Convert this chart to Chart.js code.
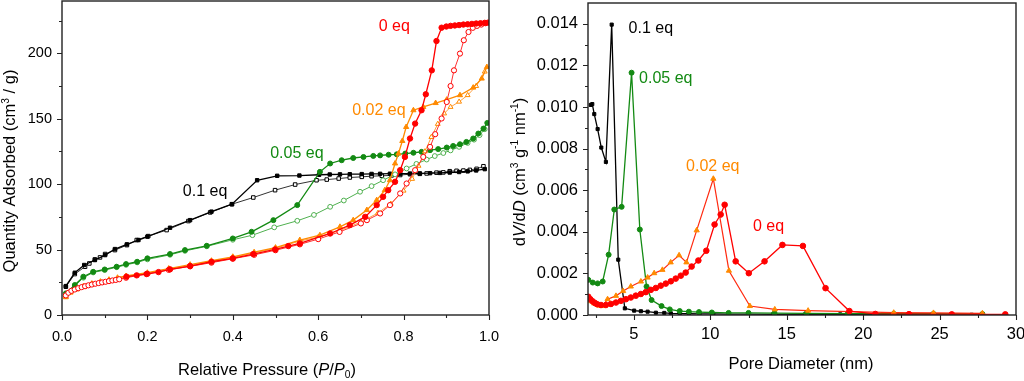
<!DOCTYPE html>
<html><head><meta charset="utf-8">
<script src="https://cdn.jsdelivr.net/npm/chart.js@4.4.1/dist/chart.umd.min.js"></script>
<style>
html,body{margin:0;padding:0;background:#fff;width:1024px;height:381px;overflow:hidden}
#c1{position:absolute;left:0;top:0}
#c2{position:absolute;left:500px;top:0}
</style></head><body>
<canvas id="c1" width="500" height="381"></canvas>
<canvas id="c2" width="524" height="381"></canvas>
<script>
// ---------- LEFT PANEL: isotherms (P/P0 vs quantity adsorbed) ----------
const p01_fill = [0.009,0.03,0.052,0.077,0.101,0.124,0.152,0.179,0.2,0.253,0.3,0.35,0.398,0.457,0.504,0.556,0.602,0.627,0.651,0.674,0.702,0.725,0.745,0.768,0.792,0.815,0.838,0.862,0.885,0.908,0.93,0.95,0.97,0.99];
const v01_fill = [22.1,32.3,38.2,42,45.8,50.4,54,57.3,59.9,66.7,72.5,79,84.7,103,106.4,106.6,107.2,107.4,107.5,107.6,107.7,107.8,107.9,108,108,108.1,108.2,108.4,108.6,108.9,109.3,109.8,110.5,111.5];
const p01_open = [0.009,0.03,0.054,0.064,0.077,0.089,0.101,0.124,0.152,0.175,0.202,0.245,0.296,0.347,0.398,0.448,0.499,0.546,0.596,0.62,0.648,0.674,0.702,0.725,0.749,0.772,0.792,0.815,0.838,0.854,0.877,0.893,0.908,0.924,0.94,0.955,0.971,0.987];
const v01_open = [21.6,31.3,36.9,39.4,42.5,44,46.6,49.6,53.4,57.3,60.3,64.9,71.8,78.4,84.7,89.8,95.4,99.7,103,103.5,104.3,105.1,105.6,106.1,106.4,106.7,107,107.6,107.9,108.2,108.8,109,109.9,110.2,110.4,110.9,111.7,113.7];

const p005_fill = [0.009,0.03,0.05,0.073,0.1,0.128,0.15,0.176,0.2,0.253,0.288,0.339,0.4,0.444,0.495,0.551,0.604,0.628,0.655,0.682,0.706,0.729,0.745,0.765,0.784,0.804,0.823,0.842,0.862,0.881,0.901,0.916,0.932,0.947,0.963,0.975,0.987,0.996];
const v005_fill = [16.5,22.9,29.3,33,34.8,36.9,38.9,40.7,43.3,46.6,49.6,52.9,58.5,63.6,72.5,84,109.4,115.8,118.3,120,120.8,121.6,122,122.5,122.8,123.4,124,124.7,126,126.8,128,129.2,130.5,132.3,134.9,138.7,142.5,146.8];
const p005_open = [0.009,0.03,0.05,0.073,0.1,0.128,0.15,0.176,0.2,0.253,0.288,0.339,0.4,0.446,0.497,0.551,0.59,0.628,0.66,0.698,0.725,0.752,0.78,0.807,0.83,0.854,0.873,0.893,0.91,0.93,0.95,0.965,0.978,0.99];
const v005_open = [15,22,28.5,32.5,34.3,36.5,38.3,40.2,42.5,46,49,52.5,57.5,61,67,72,76.5,82.7,87.5,94.2,98.5,103,107.5,112,115.5,118.8,121.5,123.8,125.8,128.5,131.5,134,137.5,142];

const p002_fill = [0.009,0.02,0.035,0.05,0.07,0.09,0.11,0.13,0.15,0.2,0.25,0.3,0.35,0.4,0.45,0.5,0.557,0.604,0.651,0.682,0.714,0.737,0.756,0.768,0.78,0.788,0.797,0.806,0.823,0.846,0.875,0.901,0.932,0.963,0.983,0.995];
const v002_fill = [14,17.5,20,22,24,25.5,27,28.5,29.8,32.3,35.5,38.5,41.5,44.5,48,51.5,57.3,61,67.4,72.5,80.2,87.8,95.4,103,115.8,123.4,133,143.7,156.5,159,162,164.6,168,173.8,180.7,189.5];
const p002_open = [0.009,0.02,0.035,0.05,0.07,0.09,0.11,0.13,0.15,0.2,0.25,0.3,0.35,0.4,0.45,0.5,0.557,0.6,0.65,0.7,0.74,0.77,0.8,0.82,0.835,0.85,0.865,0.88,0.895,0.91,0.93,0.95,0.97,0.99];
const v002_open = [13.5,17,19.5,21.5,23.5,25,26.5,28,29.3,31.8,35,38,41,44,47.5,51,56.5,59.5,64.5,71,78,85,95,104,114,125,136,146,154,159,163,168,175,186];

const p0_fill = [0.151,0.175,0.198,0.226,0.253,0.3,0.35,0.4,0.448,0.499,0.53,0.557,0.628,0.674,0.71,0.737,0.752,0.764,0.78,0.792,0.803,0.815,0.827,0.842,0.852,0.866,0.877,0.889,0.9,0.91,0.92,0.93,0.94,0.95,0.96,0.97,0.98,0.99,0.998];
const v0_fill = [29.3,30.3,31.3,32.8,34.9,37.4,40.7,43.3,46.6,50.1,52.7,54.7,62.3,68.7,75,84,90.3,95.4,101.8,110.7,120.8,134.9,146.3,156.5,168.7,187,209.4,219.6,220.5,221,221.3,221.6,222,222.2,222.5,222.8,223,223.3,223.5];
const p0_open = [0.009,0.015,0.022,0.03,0.038,0.046,0.054,0.062,0.07,0.078,0.086,0.094,0.102,0.11,0.118,0.126,0.134,0.15,0.2,0.25,0.3,0.35,0.4,0.45,0.5,0.557,0.6,0.65,0.7,0.714,0.745,0.768,0.792,0.807,0.827,0.846,0.862,0.874,0.889,0.901,0.91,0.918,0.932,0.941,0.952,0.962,0.972,0.982,0.992];
const v0_open = [15,17,18.5,19.5,20.5,21.3,22,22.7,23.3,23.9,24.4,24.9,25.4,25.9,26.4,26.8,27.3,28.5,31.5,34.5,37.2,40,43,46,49.5,54,58,63.5,70,72.5,77.6,84,92.9,100.5,110.7,120.8,128.5,138.2,150.2,162.8,175,187,199.8,210,216.3,219.5,221,222,223];

const leftXTicks = [0,0.2,0.4,0.6,0.8,1.0];
const leftXMinor = [0.1,0.3,0.5,0.7,0.9];
const leftYTicks = [0,50,100,150,200];
const leftYMinor = [25,75,125,175,225];
const leftLabels = ['0 eq','0.02 eq','0.05 eq','0.1 eq'];
const leftLabelX = [0.778,0.742,0.55,0.335];
const leftLabelY = [220.6,156.5,123.7,94.7];

// ---------- RIGHT PANEL: pore size distribution ----------
const d01 = [2.18,2.28,2.41,2.63,2.87,3.17,3.55,3.98,4.41,5.02,5.46,5.9,6.44,6.99,7.42,8.0,8.6,9.3,10.2,11.2,12.5,14.1,16.2,18.5,21.4,24.5,27.1];
const y01 = [0.0101,0.01014,0.00966,0.00894,0.00805,0.00736,0.01396,0.00266,0.00032,0.00021,0.00018,0.00016,0.00011,0.0001,0.00008,0.00007,0.00006,0.00005,0.00005,0.00004,0.00004,0.00003,0.00003,0.00003,0.00002,0.00002,0.00001];
const d005 = [2.02,2.31,2.63,2.96,3.35,3.72,4.2,4.85,5.39,5.83,6.16,6.81,7.35,8.0,8.6,9.26,10.1,11.2,12.5,14.2,16.3,19.0,22.0,24.6,27.8];
const y005 = [0.00169,0.00156,0.00152,0.00161,0.0029,0.00507,0.0052,0.01165,0.00411,0.00137,0.00072,0.00043,0.00027,0.00019,0.00016,0.00014,0.00012,0.0001,0.0001,0.00009,0.00008,0.00007,0.00006,0.00006,0.00005];
const d002 = [2.02,2.2,2.4,2.6,2.74,2.96,3.28,3.83,4.3,4.8,5.46,5.9,6.33,6.87,7.41,7.96,8.44,9.11,10.2,11.22,12.59,14.22,16.4,22.0,24.6,27.8];
const y002 = [0.00081,0.00066,0.00056,0.0005,0.00045,0.00043,0.00076,0.00092,0.00115,0.00137,0.00161,0.0018,0.00201,0.00217,0.00253,0.00287,0.00253,0.00407,0.00655,0.00213,0.00043,0.00027,0.00021,0.00011,0.0001,0.00008];
const d0 = [2.02,2.15,2.3,2.45,2.6,2.85,3.17,3.5,3.83,4.15,4.48,4.8,5.13,5.46,5.78,6.11,6.44,6.76,7.09,7.42,7.74,8.07,8.39,8.78,9.22,9.74,10.28,10.68,10.94,11.66,12.52,13.55,14.72,16.06,17.54,19.1,20.8,23.0,25.8,29.3];
const y0 = [0.00088,0.00076,0.00066,0.00058,0.00052,0.00048,0.00048,0.00053,0.0006,0.00068,0.00076,0.00084,0.00093,0.00101,0.0011,0.00121,0.0013,0.00141,0.00151,0.00162,0.00175,0.00189,0.00204,0.00233,0.00262,0.00309,0.00435,0.00483,0.0053,0.00258,0.00201,0.00258,0.00337,0.00332,0.00129,0.00019,0.00005,0.00004,0.00003,0.00003];

const rightXTicks = [5,10,15,20,25,30];
const rightXMinor = [2.5,7.5,12.5,17.5,22.5,27.5];
const rightYTicks = [0,0.002,0.004,0.006,0.008,0.010,0.012,0.014];
const rightYMinor = [0.001,0.003,0.005,0.007,0.009,0.011,0.013];
const rightLabels = ['0.1 eq','0.05 eq','0.02 eq','0 eq'];
const rightLabelX = [6.11,7.09,10.16,13.81];
const rightLabelY = [0.01377,0.01135,0.00715,0.00425];

// ---------- styling ----------
const FONT = '"Liberation Sans", Arial, Helvetica, sans-serif';
const BLACK='#000000', GREEN='#138a13', ORANGE='#ff8a00', RED='#ff0000';
const GREEN_L='#4fb04f', ORANGE_L='#ffa040', RED_L='#ff3030';

function pts(xs, ys){ return xs.map((x,i)=>({x:x, y:ys[i]})); }
function ds(xs, ys, line, fillCol, style, filled, r, lw){
  return { data: pts(xs,ys), showLine:true, borderColor:line, borderWidth:lw||1.2,
    pointStyle:style, pointRadius:r, pointHoverRadius:r, pointBorderWidth:1,
    pointBorderColor: fillCol, pointBackgroundColor: filled ? fillCol : '#ffffff', tension:0 };
}

function drawRich(ctx, segs, x, y, size, rot){
  ctx.save(); ctx.translate(x,y); if(rot) ctx.rotate(-Math.PI/2);
  let w=0;
  const m = segs.map(s=>{ const fs=(s.sup||s.sub)? size*0.62 : size;
    ctx.font=(s.it?'italic ':'')+fs+'px '+FONT; const ww=ctx.measureText(s.t).width; w+=ww; return {s,fs,ww}; });
  let cx=-w/2; ctx.fillStyle='#000'; ctx.textBaseline='alphabetic'; ctx.textAlign='left';
  m.forEach(({s,fs,ww})=>{ ctx.font=(s.it?'italic ':'')+fs+'px '+FONT;
    let dy=size*0.36; if(s.sup) dy-=size*0.42; if(s.sub) dy+=size*0.2;
    ctx.fillText(s.t,cx,dy); cx+=ww; });
  ctx.restore();
}

function decoPlugin(o){
  return { id:'deco', afterDraw(chart){
    const ctx=chart.ctx, a=chart.chartArea, xs=chart.scales.x, ys=chart.scales.y;
    ctx.save();
    ctx.strokeStyle='#222'; ctx.lineWidth=1.4;
    ctx.strokeRect(a.left, a.top, a.right-a.left, a.bottom-a.top);
    ctx.lineWidth=1.1; ctx.beginPath();
    const X=(v)=>Math.round(xs.getPixelForValue(v))+0.5, Y=(v)=>Math.round(ys.getPixelForValue(v))+0.5;
    o.xMajor.forEach(v=>{const p=X(v); ctx.moveTo(p,a.bottom); ctx.lineTo(p,a.bottom+5);});
    o.xMinor.forEach(v=>{const p=X(v); ctx.moveTo(p,a.bottom); ctx.lineTo(p,a.bottom+3);});
    o.yMajor.forEach(v=>{const p=Y(v); ctx.moveTo(a.left,p); ctx.lineTo(a.left-5,p);});
    o.yMinor.forEach(v=>{const p=Y(v); ctx.moveTo(a.left,p); ctx.lineTo(a.left-3,p);});
    ctx.stroke();
    // series labels
    ctx.font=o.labelSize+'px '+FONT; ctx.textAlign='center'; ctx.textBaseline='middle';
    o.labels.forEach((t,i)=>{ ctx.fillStyle=o.labelColors[i]; ctx.fillText(t, xs.getPixelForValue(o.labelX[i]), ys.getPixelForValue(o.labelY[i])); });
    // axis titles
    drawRich(ctx, o.xTitle, o.xTitlePos[0], o.xTitlePos[1], 16.5, false);
    drawRich(ctx, o.yTitle, o.yTitlePos[0], o.yTitlePos[1], 16.5, true);
    ctx.restore();
  }};
}

function fixPad(s){ s.paddingTop=0; s.paddingBottom=0; s.paddingLeft=0; s.paddingRight=0; }

function makeChart(id, datasets, sc, o){
  return new Chart(document.getElementById(id), {
    type:'scatter',
    data:{datasets},
    options:{
      responsive:false, animation:false, events:[],
      layout:{autoPadding:false, padding:{left:0, top:sc.padTop, right:sc.padRight, bottom:0}},
      plugins:{legend:{display:false}, tooltip:{enabled:false}},
      scales:{
        x:{type:'linear', min:sc.xmin, max:sc.xmax,
          grid:{display:false, drawTicks:false}, border:{display:false},
          afterBuildTicks:(s)=>{ s.ticks = sc.xTicks.map(v=>({value:v})); },
          afterFit:(s)=>{ s.height = sc.xH; fixPad(s); },
          ticks:{color:'#000', font:{family:FONT, size:sc.tickSize}, padding:sc.xPad, maxRotation:0, autoSkip:false,
            callback:sc.xFmt}},
        y:{type:'linear', min:sc.ymin, max:sc.ymax,
          grid:{display:false, drawTicks:false}, border:{display:false},
          afterBuildTicks:(s)=>{ s.ticks = sc.yTicks.map(v=>({value:v})); },
          afterFit:(s)=>{ s.width = sc.yW; fixPad(s); },
          ticks:{color:'#000', font:{family:FONT, size:sc.tickSize}, padding:sc.yPad, autoSkip:false,
            callback:sc.yFmt}}
      }
    },
    plugins:[decoPlugin(o)]
  });
}

// left chart
makeChart('c1', [
  ds(p0_fill, v0_fill, RED, RED, 'circle', true, 2.7, 1.3),
  ds(p0_open, v0_open, RED_L, RED, 'circle', false, 2.6, 1),
  ds(p002_fill, v002_fill, ORANGE, ORANGE, 'triangle', true, 3, 1.3),
  ds(p002_open, v002_open, ORANGE_L, ORANGE, 'triangle', false, 2.8, 1),
  ds(p005_fill, v005_fill, GREEN, GREEN, 'circle', true, 2.5, 1.3),
  ds(p005_open, v005_open, GREEN_L, GREEN_L, 'circle', false, 2.4, 1),
  ds(p01_fill, v01_fill, BLACK, BLACK, 'rect', true, 2.4, 1.3),
  ds(p01_open, v01_open, '#333', BLACK, 'rect', false, 2.5, 1)
], {padTop:1, padRight:11, xmin:0, xmax:1.0, ymin:0, ymax:240, xTicks:leftXTicks, yTicks:leftYTicks,
    xH:66, yW:62, tickSize:14.5, xPad:13, yPad:10,
    xFmt:(v)=>Number(v).toFixed(1), yFmt:(v)=>String(v)},
  {xMajor:leftXTicks, xMinor:leftXMinor, yMajor:leftYTicks, yMinor:leftYMinor,
   labels:leftLabels, labelX:leftLabelX, labelY:leftLabelY, labelColors:[RED,ORANGE,GREEN,BLACK], labelSize:16,
   xTitle:[{t:'Relative Pressure ('},{t:'P',it:1},{t:'/'},{t:'P',it:1},{t:'0',sub:1},{t:')'}], xTitlePos:[267,369],
   yTitle:[{t:'Quantity Adsorbed (cm'},{t:'3',sup:1},{t:' / g)'}], yTitlePos:[9.5,171]});

// right chart
makeChart('c2', [
  ds(d0, y0, RED, RED, 'circle', true, 2.8, 1.3),
  ds(d002, y002, '#ff2a10', ORANGE, 'triangle', true, 3, 1.2),
  ds(d005, y005, GREEN, GREEN, 'circle', true, 2.5, 1.3),
  ds(d01, y01, BLACK, BLACK, 'rect', true, 2.2, 1.3)
], {padTop:3, padRight:8, xmin:2, xmax:30, ymin:0, ymax:0.015, xTicks:rightXTicks, yTicks:rightYTicks,
    xH:66, yW:88, tickSize:16.5, xPad:10, yPad:10,
    xFmt:(v)=>String(v), yFmt:(v)=>Number(v).toFixed(3)},
  {xMajor:rightXTicks, xMinor:rightXMinor, yMajor:rightYTicks, yMinor:rightYMinor,
   labels:rightLabels, labelX:rightLabelX, labelY:rightLabelY, labelColors:[BLACK,GREEN,ORANGE,RED], labelSize:16,
   xTitle:[{t:'Pore Diameter (nm)'}], xTitlePos:[301,363],
   yTitle:[{t:'d'},{t:'V',it:1},{t:'/d'},{t:'D',it:1},{t:' (cm'},{t:'3',sup:1},{t:' g'},{t:'-1',sup:1},{t:' nm'},{t:'-1',sup:1},{t:')'}], yTitlePos:[19,172]});
</script>
</body></html>
